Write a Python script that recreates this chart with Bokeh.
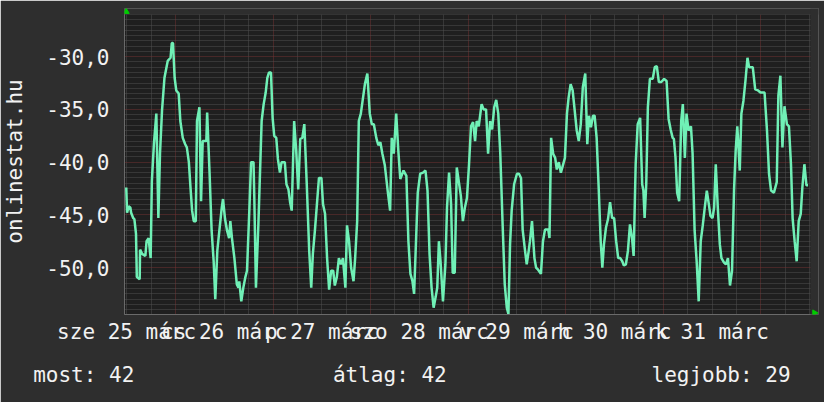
import math
from bokeh.plotting import figure
from bokeh.models import (FixedTicker, LinearAxis, AllLabels, Range1d, BoxAnnotation)
from bokeh.embed import file_html
from bokeh.resources import INLINE

# ---- data: hours since 25 March 00:00, signal value ----
hours_a = [11.9, 12.1, 12.5, 12.9, 13.1, 13.6, 13.9, 14.3, 14.5, 15.2, 15.3, 15.8, 16.6, 16.9, 17.4,
           17.9, 18.2, 18.7, 19.3, 19.8, 20.2, 20.7, 21.3, 22.1, 22.8, 23.1, 23.4, 23.8, 24.2, 24.8,
           25.2, 25.8, 26.4, 26.8, 27.3, 27.7, 28.1, 28.5, 29.0, 29.3, 29.9, 30.3, 30.7, 31.6, 31.8,
           32.4, 32.9, 33.4, 33.8, 34.3, 34.8, 35.4, 35.7, 36.2, 36.7, 37.2, 37.5, 37.9, 38.5, 39.1,
           39.5, 39.7, 40.2, 40.7, 41.2, 41.6, 42.2, 42.6, 43.2, 43.4, 43.8, 44.4]
vals_a = [-42.4, -44.8, -44.2, -44.3, -44.8, -45.3, -45.4, -46.8, -50.9, -51.1, -48.3, -48.7, -48.9, -47.5, -47.2,
          -49.1, -41.8, -38.3, -35.4, -45.3, -39.2, -35.1, -32.0, -30.4, -30.1, -28.7, -28.7, -32.0, -33.2, -33.5,
          -36.1, -37.7, -38.3, -38.6, -40.0, -42.4, -44.6, -45.6, -45.6, -36.1, -34.8, -43.7, -38.0, -38.0, -35.3,
          -41.1, -46.5, -49.4, -53.0, -48.4, -46.5, -44.3, -43.5, -45.4, -46.5, -47.2, -45.6, -47.2, -49.1, -51.6,
          -51.9, -51.3, -53.2, -51.9, -50.9, -50.3, -44.3, -40.0, -40.0, -43.4, -51.9, -45.9]

hours_b = [45.2, 45.7, 46.2, 46.6, 47.0, 47.5, 47.9, 48.3, 48.8, 49.2, 49.7, 50.1, 50.9, 51.3, 51.8,
           52.2, 52.6, 53.2, 53.7, 54.2, 54.7, 55.2, 55.7, 56.3, 56.9, 57.4, 57.8, 58.3, 58.8, 59.3,
           59.9, 60.3, 60.8, 61.3, 61.8, 62.3, 62.8, 63.2, 63.7, 64.2, 64.7, 65.2, 65.8, 66.2, 66.7,
           67.2, 67.8, 68.2, 68.7, 69.1, 69.6, 70.6, 71.2, 71.8, 72.3, 72.8, 73.4, 73.9, 74.4, 74.9,
           75.5, 76.2, 76.8, 77.2, 77.7, 78.3]
vals_b = [-36.1, -34.5, -33.4, -32.0, -31.5, -31.5, -35.8, -37.5, -37.7, -39.7, -41.0, -40.0, -40.0, -42.1, -42.6,
          -43.8, -44.6, -36.1, -38.9, -42.6, -37.8, -37.7, -36.4, -42.1, -48.4, -51.9, -48.7, -46.5, -44.0, -41.5,
          -41.5, -44.0, -44.9, -49.1, -52.1, -50.3, -50.3, -51.7, -50.9, -49.1, -49.7, -49.1, -51.9, -46.0, -47.5,
          -50.0, -51.3, -49.1, -45.6, -36.1, -35.4, -32.6, -31.6, -35.4, -36.4, -36.4, -37.7, -38.4, -38.1, -39.2,
          -40.3, -42.7, -44.6, -37.7, -39.2, -35.4]

hours_c = [78.8, 79.3, 80.1, 80.8, 81.3, 81.8, 82.3, 82.7, 83.2, 83.6, 84.2, 84.9, 85.5, 86.0, 86.5,
           87.0, 87.5, 88.0, 88.4, 88.8, 89.2, 89.8, 90.4, 90.8, 91.3, 91.8, 92.2, 92.7, 93.2, 94.2,
           94.7, 95.2, 95.7, 96.2, 96.7, 97.2, 97.7, 98.1, 98.6, 99.3, 99.8, 100.4, 100.9, 101.4, 101.9,
           102.4, 102.9, 103.4, 103.9, 104.5, 105.0, 105.5, 105.9, 106.3, 106.7, 107.3, 108.0, 108.5, 109.0, 109.4,
           109.9, 110.4, 110.9, 111.2, 111.7, 112.3]
vals_c = [-38.8, -41.6, -40.8, -41.3, -47.5, -50.6, -51.3, -52.5, -47.2, -42.9, -41.1, -41.0, -40.8, -42.7, -48.7,
          -51.9, -53.8, -52.8, -51.9, -47.5, -49.4, -53.2, -49.7, -44.3, -41.0, -44.0, -50.5, -50.5, -40.5, -43.2,
          -45.6, -44.3, -43.4, -40.3, -36.6, -36.2, -38.0, -36.1, -36.6, -34.5, -35.0, -35.0, -39.2, -36.1, -36.9,
          -34.8, -34.1, -35.4, -39.2, -46.2, -51.6, -53.8, -54.4, -47.8, -44.6, -42.1, -41.1, -41.1, -41.5, -46.4,
          -48.1, -49.7, -48.4, -47.5, -45.6, -49.1]

hours_d = [112.7, 113.2, 113.9, 114.4, 114.9, 115.7, 116.0, 116.4, 116.9, 117.4, 117.8, 118.3, 118.8, 119.3, 119.8,
           120.3, 120.7, 121.2, 121.7, 122.2, 122.7, 123.2, 123.7, 124.2, 124.8, 125.3, 125.7, 126.2, 126.7, 127.1,
           127.6, 128.1, 128.6, 129.0, 129.4, 129.9, 130.4, 130.9, 131.4, 131.9, 132.4, 132.9, 133.4, 133.9, 134.3,
           134.8, 135.3, 135.8, 136.3, 136.7, 137.2, 137.7, 138.3, 138.8, 139.1, 139.4, 139.8, 140.2, 140.7, 141.4,
           141.9, 142.4, 142.9, 143.5, 144.2, 144.8, 145.3, 145.8, 146.3]
vals_d = [-50.0, -50.2, -50.6, -47.5, -46.4, -46.4, -47.2, -37.7, -39.2, -39.6, -40.7, -40.0, -41.0, -40.3, -39.6,
          -35.4, -33.9, -32.6, -33.2, -35.1, -37.0, -38.0, -36.4, -32.9, -31.6, -38.3, -35.6, -36.7, -35.6, -35.6,
          -37.7, -42.4, -47.5, -50.0, -47.8, -46.2, -45.4, -43.8, -45.3, -45.3, -47.5, -49.1, -49.1, -49.4, -49.8,
          -49.7, -48.4, -45.9, -47.2, -48.9, -40.2, -36.4, -35.8, -42.1, -42.7, -45.3, -42.1, -34.8, -32.1, -32.1,
          -31.0, -30.9, -32.4, -32.4, -32.1, -32.3, -35.9, -36.9, -37.7]

hours_e = [146.6, 147.0, 147.4, 147.9, 148.4, 148.8, 149.3, 149.7, 150.2, 150.8, 151.2, 151.7, 152.2, 152.7, 153.2,
           153.7, 154.2, 154.7, 155.2, 155.6, 156.1, 156.5, 156.9, 157.4, 157.9, 158.3, 158.9, 159.4, 159.9, 160.4,
           160.9, 161.4, 161.8, 162.2, 162.8, 163.2, 163.7, 164.2, 164.7, 165.1, 166.0, 166.6, 167.3, 167.9, 168.9,
           169.5, 170.0, 170.5, 171.2, 171.9, 172.3, 172.8, 173.3, 173.8, 174.4, 174.9, 175.4, 175.8, 176.3, 176.8,
           177.3, 177.8, 178.2, 178.7, 179.2, 179.6]
vals_e = [-37.8, -39.6, -42.9, -43.7, -36.1, -34.5, -39.6, -35.4, -37.0, -36.6, -39.2, -46.5, -49.4, -53.2, -47.5,
          -46.0, -44.3, -42.7, -44.0, -45.1, -45.3, -44.3, -40.2, -44.3, -47.8, -49.1, -49.5, -49.7, -49.1, -51.7,
          -50.3, -42.6, -38.9, -36.6, -40.8, -35.4, -34.2, -32.3, -30.1, -31.0, -31.0, -33.1, -33.2, -33.4, -33.4,
          -37.0, -41.1, -42.7, -42.9, -41.9, -33.7, -31.8, -38.6, -34.7, -36.4, -36.6, -40.2, -45.3, -47.5, -49.4,
          -45.6, -44.9, -42.4, -40.2, -42.2, -42.2]

hours = hours_a + hours_b + hours_c + hours_d + hours_e
values = vals_a + vals_b + vals_c + vals_d + vals_e

# ---- ticks and labels ----
day_noon_hours = [12, 36, 60, 84, 108, 132, 156]
day_labels = ["sze 25 márc", "cs 26 márc", "p 27 márc", "szo 28 márc",
              "v 29 márc", "h 30 márc", "k 31 márc"]
midnight_hours = [24, 48, 72, 96, 120, 144, 168]
y_ticks = [-50, -45, -40, -35, -30]
y_labels = ["-50,0", "-45,0", "-40,0", "-35,0", "-30,0"]
y_label_text = "onlinestat.hu"

legend_names = ["most", "átlag", "legjobb"]
legend_values = [42, 42, 29]
legend_hours = [12.33, 76.73, 158.2]      # anchor of each summary text
NBSP = "\u00a0"
legend_pad = [7, 0, 0]                    # trailing pad keeps the first anchor inside the axis

# graph window (data area)
T0, T1 = 11.47, 180.2
V0, V1 = -54.45, -26.0

FONT = "DejaVu Sans Mono"
FS = "21px"
TXT = "#f2f2f2"
OUTER = "#2e2e2e"
INNER = "#1f1f1f"
MAJOR = "#733232"
MINOR = "#505050"
GREEN = "#00cc00"

p = figure(width=824, height=402, output_backend="svg", toolbar_location=None,
           x_range=Range1d(T0, 182.17), y_range=Range1d(V0, -25.43),
           min_border_left=123, min_border_right=6, min_border_top=8, min_border_bottom=88,
           background_fill_color=OUTER, border_fill_color=OUTER,
           outline_line_color=None)

# dark graph area
p.add_layout(BoxAnnotation(left=T0, right=T1, bottom=V0, top=V1, fill_color=INNER,
                           fill_alpha=1, line_color=None, level="image"))

# grids
six_hour_minor = [h for h in range(12, 181, 6) if h % 24 != 0]
half_minor = [-54 + 0.5 * i for i in range(0, 57) if (-54 + 0.5 * i) not in y_ticks]
xg, yg = p.xgrid[0], p.ygrid[0]
xg.ticker = FixedTicker(ticks=midnight_hours, minor_ticks=six_hour_minor)
yg.ticker = FixedTicker(ticks=y_ticks, minor_ticks=half_minor)
for g in (xg, yg):
    g.grid_line_color = MAJOR
    g.grid_line_dash = "1 1"
    g.minor_grid_line_color = MINOR
    g.minor_grid_line_dash = "1 1"

# keep the strips above / right of the graph area free of grid lines
p.add_layout(BoxAnnotation(bottom=V1, fill_color=OUTER, fill_alpha=1, line_color=None, level="underlay"))
p.add_layout(BoxAnnotation(left=T1, fill_color=OUTER, fill_alpha=1, line_color=None, level="underlay"))

# x axis (day labels)
xa = p.xaxis[0]
xa.ticker = FixedTicker(ticks=day_noon_hours)
xa.major_label_overrides = {h: lab for h, lab in zip(day_noon_hours, day_labels)}
xa.major_label_policy = AllLabels()
xa.bounds = (T0, T1)
xa.major_label_standoff = 5

# summary line (most / átlag / legjobb) as a second, line-less axis
sa = LinearAxis(ticker=FixedTicker(ticks=legend_hours))
sa.major_label_overrides = {h: f"{n}: {v}" + NBSP * k
                            for h, n, v, k in zip(legend_hours, legend_names, legend_values, legend_pad)}
sa.major_label_policy = AllLabels()
sa.major_label_standoff = 16
sa.axis_line_color = None
p.add_layout(sa, "below")

# y axis
ya = p.yaxis[0]
ya.ticker = FixedTicker(ticks=y_ticks)
ya.major_label_overrides = {t: lab for t, lab in zip(y_ticks, y_labels)}
ya.bounds = (V0, V1)
ya.major_label_standoff = 15
ya.axis_label = y_label_text
ya.axis_label_text_font = FONT
ya.axis_label_text_font_size = FS
ya.axis_label_text_font_style = "normal"
ya.axis_label_text_color = TXT
ya.axis_label_standoff = 16

for ax in (xa, sa, ya):
    ax.major_label_text_font = FONT
    ax.major_label_text_font_size = FS
    ax.major_label_text_color = TXT
    ax.major_tick_line_color = None
    ax.minor_tick_line_color = None
    ax.major_tick_out = 0
    ax.major_tick_in = 0
    ax.minor_tick_out = 0
    ax.minor_tick_in = 0
xa.axis_line_color = "#6a6a6a"
ya.axis_line_color = "#6a6a6a"

# data line
p.line(hours, values, line_color="#70f0b6", line_width=2.5)

# rrdtool-style axis arrow heads (top of y axis, right end of x axis)
p.scatter([11.89], [-25.73], marker="triangle", size=6, fill_color=GREEN, line_color=GREEN)
p.scatter([181.19], [-54.3], marker="triangle", size=6, angle=-math.pi / 2,
          fill_color=GREEN, line_color=GREEN)

open("out.html", "w").write(file_html(p, INLINE))
